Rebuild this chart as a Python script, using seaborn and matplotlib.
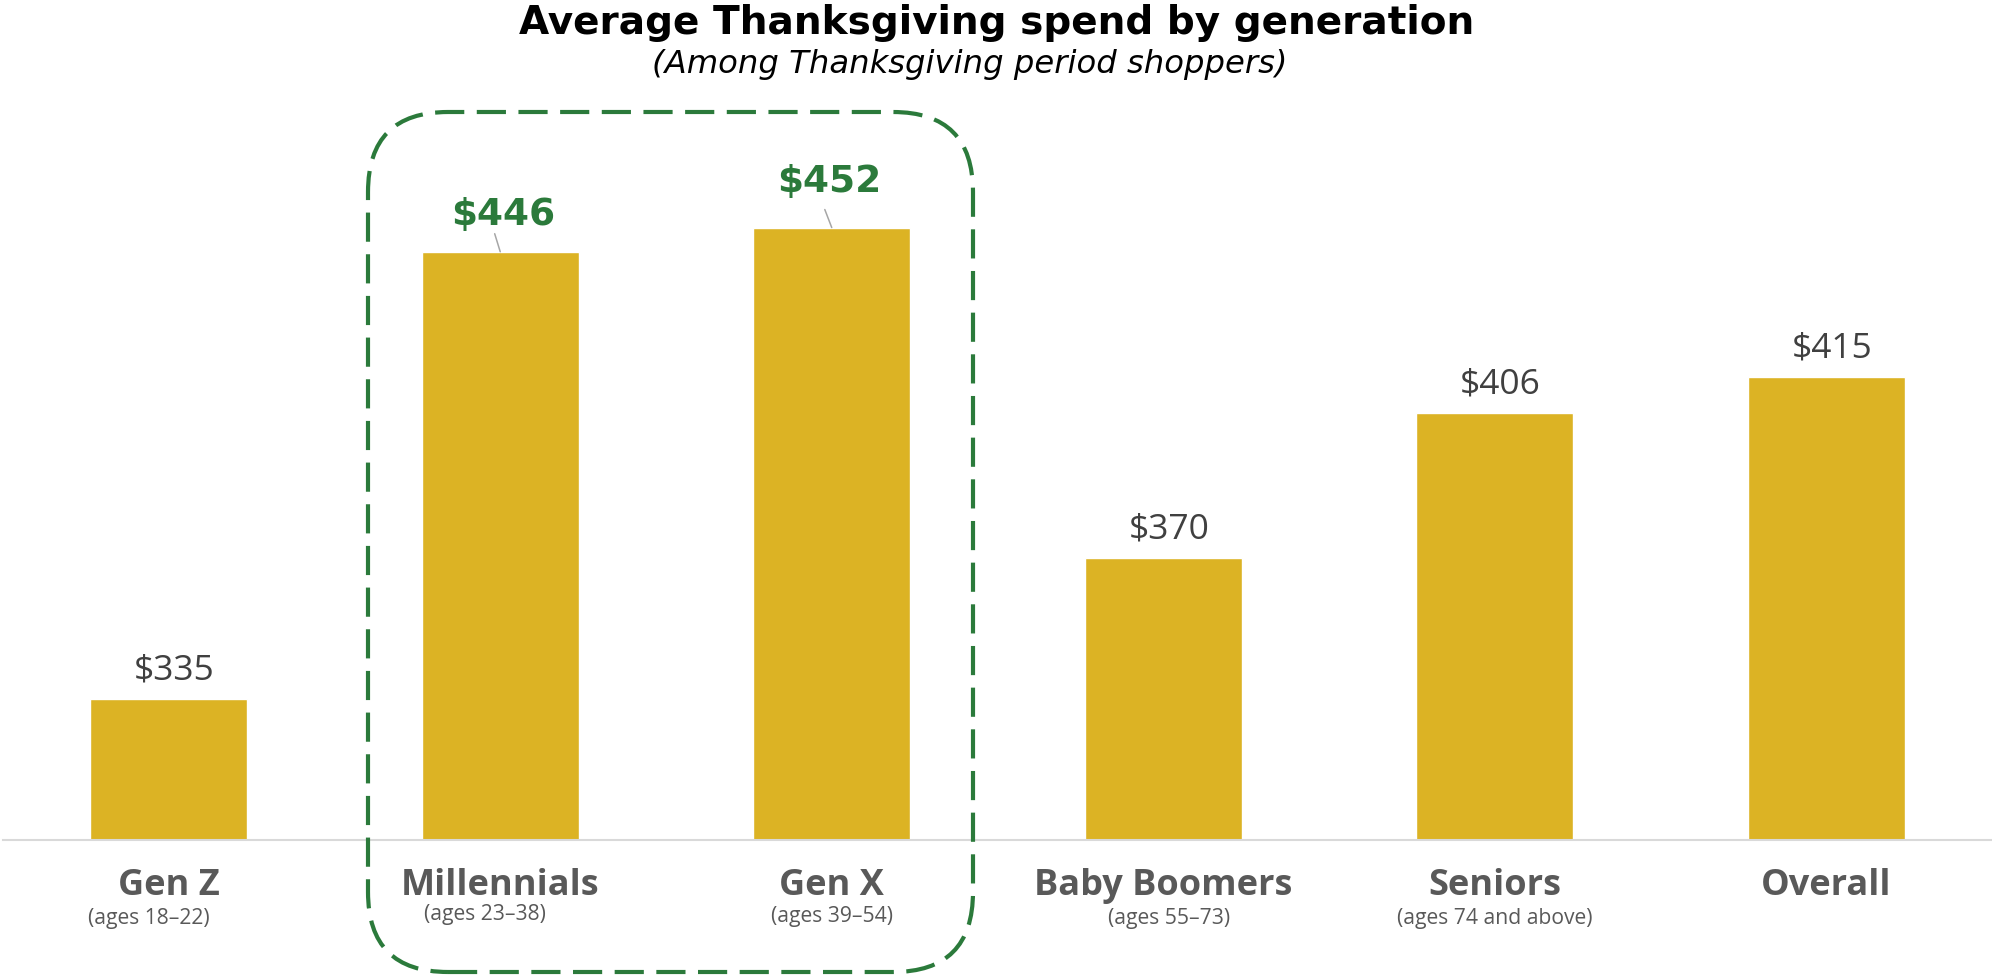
import matplotlib
matplotlib.use("Agg")
import matplotlib.pyplot as plt
from matplotlib.patches import FancyBboxPatch
import seaborn as sns
import pandas as pd

# Data
generations = ["Gen Z", "Millennials", "Gen X", "Baby Boomers", "Seniors", "Overall"]
age_ranges = ["(ages 18\u201322)", "(ages 23\u201338)", "(ages 39\u201354)",
              "(ages 55\u201373)", "(ages 74 and above)", ""]
avg_spend = [335, 446, 452, 370, 406, 415]
highlighted = ["Millennials", "Gen X"]

BAR = "#DCB324"
GREEN = "#2B7A3B"
GRAY_LBL = "#595959"
GRAY_VAL = "#404040"

sns.set_theme(style="white")
plt.rcParams["font.family"] = ["Open Sans", "DejaVu Sans"]

df = pd.DataFrame({"generation": generations, "spend": avg_spend})

fig = plt.figure(figsize=(19.92, 9.79), dpi=100)
ax = fig.add_axes([0.0015, 0.1408, 0.9985, 0.8233])

sns.barplot(data=df, x="generation", y="spend", color=BAR, width=0.475,
            saturation=1, ax=ax)

ax.set_ylim(300, 500)
ax.set_xlim(-0.5, len(generations) - 0.5)
sns.despine(ax=ax, left=True, top=True, right=True)
ax.spines["bottom"].set_color("#D9D9D9")
ax.spines["bottom"].set_linewidth(1.5)
ax.set_yticks([])
ax.set_xticks([])
ax.set_xlabel("")
ax.set_ylabel("")

# Value labels
for i, (g, v) in enumerate(zip(generations, avg_spend)):
    if g in highlighted:
        off = 27 if v < 450 else 33.5
        ax.annotate(f"${v}", xy=(i, v), xytext=(2 if v < 450 else -2, off),
                    textcoords="offset points", ha="center", va="center",
                    fontsize=27, fontweight="bold", color=GREEN,
                    family=["DejaVu Sans"])
        ax.annotate("", xy=(i, v), xytext=(-4 if v < 450 else -5, 13),
                    textcoords="offset points",
                    arrowprops=dict(arrowstyle="-", color="#A6A6A6", lw=1.1,
                                    shrinkA=0, shrinkB=0))
    else:
        ax.annotate(f"${v}", xy=(i, v), xytext=(4, 21),
                    textcoords="offset points", ha="center", va="center",
                    fontsize=25.5, color=GRAY_VAL)

# Category labels with age ranges underneath
sub_dx = [-14, -11, 0, 4, 0, 0]
sub_dy = [-56, -53, -54, -56, -56, -56]
for i, (g, a) in enumerate(zip(generations, age_ranges)):
    ax.annotate(g, xy=(i, 300), xytext=(0, -32.5), textcoords="offset points",
                ha="center", va="center", fontsize=26, fontweight="bold",
                color=GRAY_LBL, annotation_clip=False)
    if a:
        ax.annotate(a, xy=(i, 300), xytext=(sub_dx[i], sub_dy[i]),
                    textcoords="offset points", ha="center", va="center",
                    fontsize=15.2, color=GRAY_LBL, annotation_clip=False)

# Titles
fig.text(0.5005, 0.977, "Average Thanksgiving spend by generation",
         ha="center", va="center", fontsize=28.1, fontweight="bold",
         color="black", family=["DejaVu Sans"])
fig.text(0.487, 0.934, "(Among Thanksgiving period shoppers)",
         ha="center", va="center", fontsize=23.2, style="italic",
         color="black", family=["DejaVu Sans"])

# Dashed rounded frame around the highlighted generations
frame = FancyBboxPatch((3.68, 0.06), 6.05, 8.60,
                       boxstyle="round,pad=0,rounding_size=0.8",
                       transform=fig.dpi_scale_trans, fill=False,
                       edgecolor=GREEN, linewidth=3, linestyle=(0, (7, 3)),
                       clip_on=False)
fig.patches.append(frame)

fig.savefig("out.png", dpi=100, facecolor="white")
